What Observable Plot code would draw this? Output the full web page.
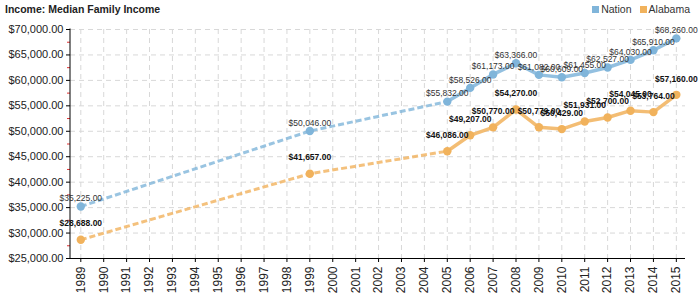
<!DOCTYPE html>
<html>
<head>
<meta charset="utf-8">
<script src="https://cdn.jsdelivr.net/npm/d3@7"></script>
<script src="https://cdn.jsdelivr.net/npm/@observablehq/plot@0.6"></script>
<style>
  body { margin: 0; background: #fff; font-family: "Liberation Sans", Arial, sans-serif; }
  #header { height: 18px; display: flex; justify-content: space-between; align-items: center; font-size: 10.5px; color: #222; }
  #title { font-weight: bold; padding-left: 5px; }
  #legend { display: flex; gap: 8px; padding-right: 10px; }
  .item { display: flex; align-items: center; gap: 2px; color: #333; }
  .sw { width: 7px; height: 7px; display: inline-block; }
</style>
</head>
<body>
<div id="header"><div id="title">Income: Median Family Income</div><div id="legend"></div></div>
<div id="chart"></div>
<script>
const years = [1989,1990,1991,1992,1993,1994,1995,1996,1997,1998,1999,2000,2001,2002,2003,2004,2005,2006,2007,2008,2009,2010,2011,2012,2013,2014,2015];
const dataYears = [1989,1999,2005,2006,2007,2008,2009,2010,2011,2012,2013,2014,2015];
const nation = [35225,50046,55832,58526,61173,63366,61082,60609,61455,62527,64030,65910,68260];
const alabama = [28688,41657,46086,49207,50770,54270,50779,50429,51931,52700,54045,53764,57160];
const yTicks = [25000,30000,35000,40000,45000,50000,55000,60000,65000,70000];
const yMinor = [27500,32500,37500,42500,47500,52500,57500,62500,67500];
const seriesNames = ["Nation","Alabama"];
const colors = ["#80b5da","#f1b25c"];

const rows = [];
dataYears.forEach((y,i) => {
  rows.push({series:"Nation", year:y, value:nation[i]});
  rows.push({series:"Alabama", year:y, value:alabama[i]});
});
const dashed = rows.filter(d => d.year <= 2005);
const solid = rows.filter(d => d.year >= 2005);
const fmt = d3.format("$,.2f");

const legend = document.getElementById("legend");
seriesNames.forEach((s,i) => {
  const it = document.createElement("div"); it.className = "item";
  it.innerHTML = `<span class="sw" style="background:${colors[i]}"></span>${s}`;
  legend.appendChild(it);
});

const axisLine = (index, scales, values, dims) => {
  const ns = "http://www.w3.org/2000/svg";
  const g = document.createElementNS(ns, "g");
  const l = document.createElementNS(ns, "line");
  l.setAttribute("x1", dims.marginLeft); l.setAttribute("x2", dims.marginLeft);
  l.setAttribute("y1", dims.marginTop - 0.5); l.setAttribute("y2", dims.height - dims.marginBottom);
  l.setAttribute("stroke", "#000");
  g.appendChild(l);
  return g;
};

const chart = Plot.plot({
  width: 700,
  height: 282,
  marginTop: 11,
  marginBottom: 42,
  marginLeft: 70,
  marginRight: 15,
  style: {fontFamily: "'Liberation Sans', Arial, sans-serif", fontSize: "11px", color: "#222", background: "#fff"},
  x: {type: "linear", domain: [1988.55, 2015.4], label: null},
  y: {domain: [25000, 70000], label: null},
  color: {domain: seriesNames, range: colors},
  marks: [
    Plot.gridX(years, {stroke: "#d8d8d8", strokeOpacity: 1, strokeDasharray: "5,4"}),
    Plot.gridY(yTicks, {stroke: "#d8d8d8", strokeOpacity: 1, strokeDasharray: "5,4"}),
    Plot.axisY(yTicks, {tickSize: 4, tickFormat: fmt, fontSize: 11, stroke: "#000", tickPadding: 3}),
    Plot.axisY(yMinor, {tickSize: 3, tickFormat: () => "", stroke: "#e03030"}),
    Plot.axisX(years, {tickRotate: -90, tickSize: 4, tickFormat: d => String(d), fontSize: 12, stroke: "#000", tickPadding: 4}),
    Plot.ruleY([25000], {stroke: "#000"}),
    axisLine,
    Plot.line(dashed, {x: "year", y: "value", z: "series", stroke: "series", strokeWidth: 3, strokeDasharray: "6 3", strokeLinecap: "butt", strokeOpacity: 0.8}),
    Plot.line(solid, {x: "year", y: "value", z: "series", stroke: "series", strokeWidth: 3.5, strokeOpacity: 0.85}),
    Plot.dot(rows, {x: "year", y: "value", fill: "series", r: 4.2}),
    Plot.text(rows.filter(d => d.series === "Nation"), {x: "year", y: "value", text: d => fmt(d.value), dy: -8, fontSize: 8.5, fill: "#333"}),
    Plot.text(rows.filter(d => d.series === "Alabama"), {x: "year", y: "value", text: d => fmt(d.value), dy: -16, fontSize: 8.5, fontWeight: "bold", fill: "#111"})
  ]
});
document.getElementById("chart").appendChild(chart);
</script>
</body>
</html>
